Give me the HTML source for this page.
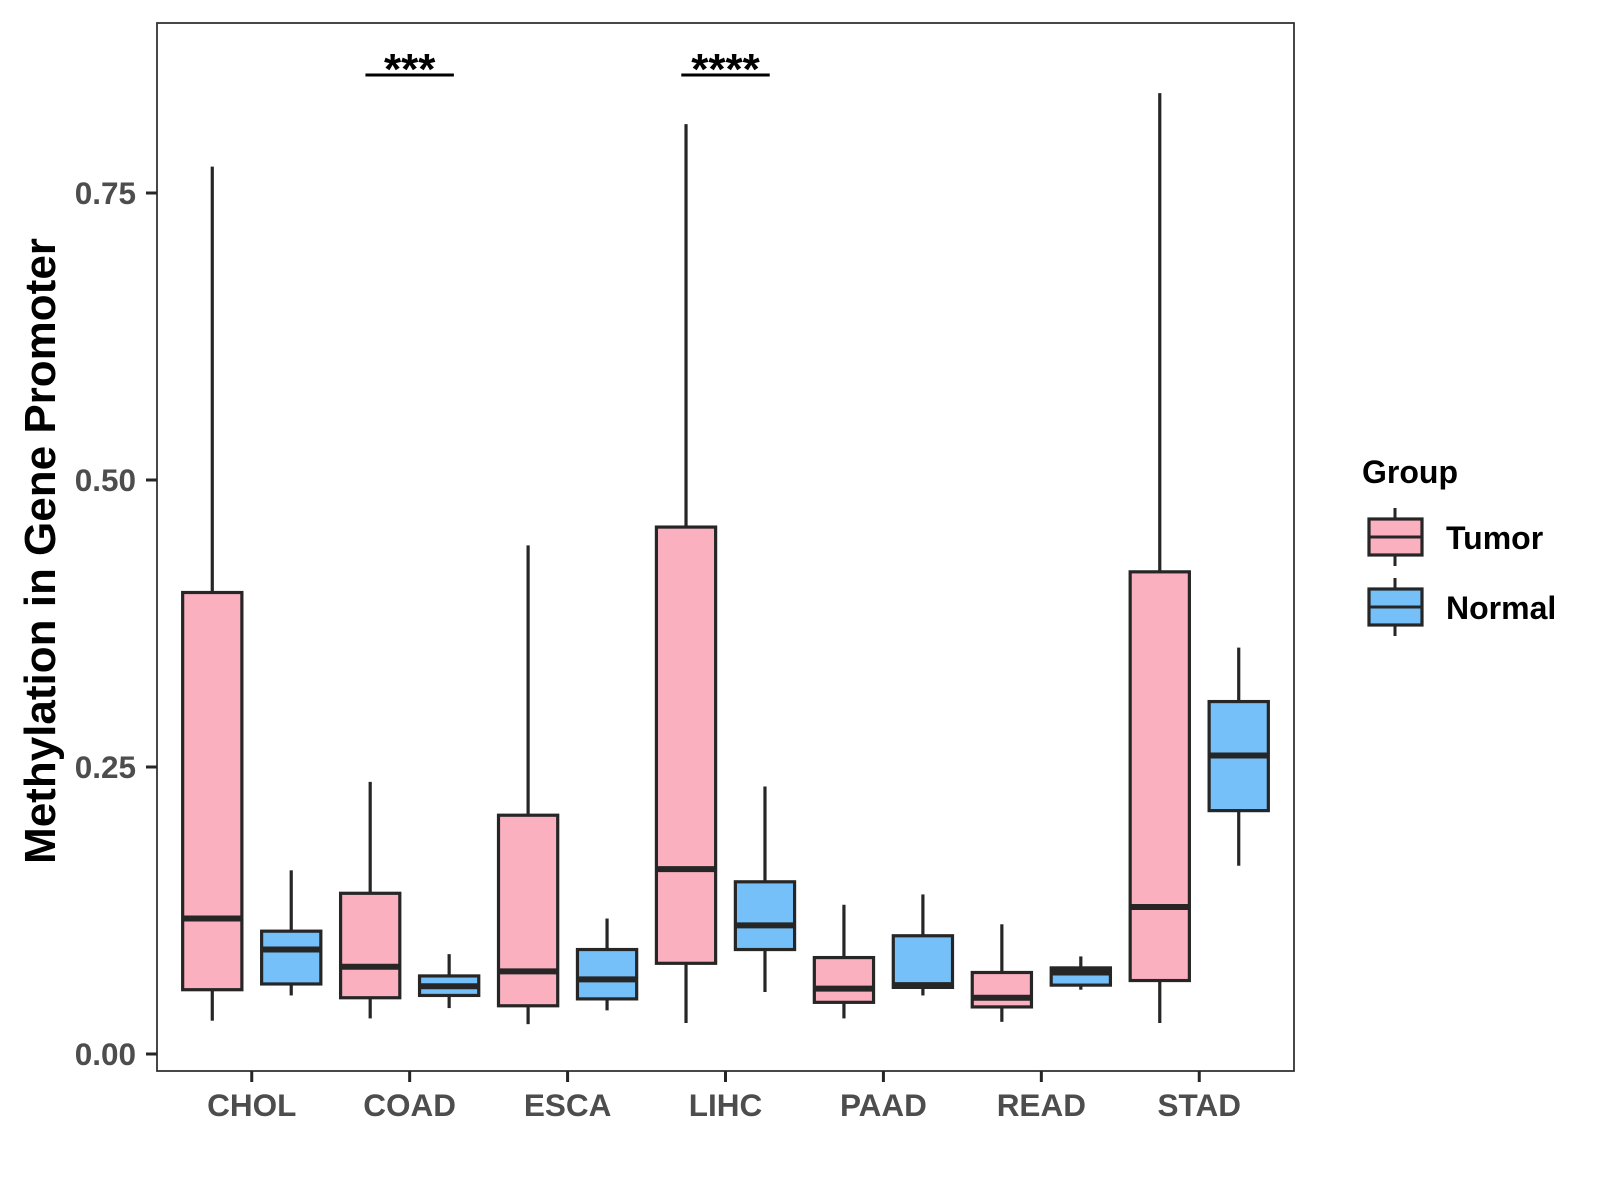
<!DOCTYPE html>
<html><head><meta charset="utf-8"><style>
html,body{margin:0;padding:0;background:#fff;}
svg{display:block;font-family:"Liberation Sans",Arial,sans-serif;}
</style></head><body>
<svg id="chart" width="1600" height="1200" viewBox="0 0 1600 1200">
<rect width="1600" height="1200" fill="#fff"/>
<g id="plot"></g>
</svg>
<script>
const categories = ["CHOL","COAD","ESCA","LIHC","PAAD","READ","STAD"];
const groups = ["Tumor","Normal"];
// [lowerWhisker, Q1, median, Q3, upperWhisker]
const tumorStats = [
 [0.029,0.056,0.118,0.402,0.773],
 [0.031,0.049,0.076,0.140,0.237],
 [0.026,0.042,0.072,0.208,0.443],
 [0.027,0.079,0.161,0.459,0.810],
 [0.031,0.045,0.057,0.084,0.130],
 [0.028,0.041,0.049,0.071,0.113],
 [0.027,0.064,0.128,0.420,0.837]
];
const normalStats = [
 [0.051,0.061,0.091,0.107,0.160],
 [0.040,0.051,0.059,0.068,0.087],
 [0.038,0.048,0.065,0.091,0.118],
 [0.054,0.091,0.112,0.150,0.233],
 [0.051,0.058,0.060,0.103,0.139],
 [0.056,0.060,0.071,0.075,0.085],
 [0.164,0.212,0.260,0.307,0.354]
];
const yTicks = [0, 0.25, 0.5, 0.75];
const yTickLabels = ["0.00","0.25","0.50","0.75"];
const sigCategories = ["COAD","LIHC"];
const sigLabels = ["***","****"];

const NS = "http://www.w3.org/2000/svg";
const g = document.getElementById("plot");
const P = {l:157, r:1294, t:23, b:1071};
function xScale(i){ return P.l + (i + 1 - 0.4) * (P.r - P.l) / 7.2; }
function yScale(v){ return 1054 - v * 1148; }
const unit = (P.r - P.l) / 7.2;
function mk(tag, attrs, parent){
  const e = document.createElementNS(NS, tag);
  for (const k in attrs) e.setAttribute(k, attrs[k]);
  (parent || g).appendChild(e);
  return e;
}
const lc = "#262626";

const border = mk("rect",{x:P.l,y:P.t,width:P.r-P.l,height:P.b-P.t,fill:"none",stroke:"#333","stroke-width":1.8});



yTicks.forEach((v,i)=>{
  const y = yScale(v);
  const t = mk("line",{x1:P.l-11,x2:P.l,y1:y,y2:y,stroke:lc,"stroke-width":3});
  
  
  const tx = mk("text",{x:136,y:y+11,"text-anchor":"end","font-size":31.5,"font-weight":"bold",fill:"#4d4d4d"});
  tx.textContent = yTickLabels[i];
  
  
});

categories.forEach((c,i)=>{
  const x = xScale(i);
  const t = mk("line",{x1:x,x2:x,y1:P.b,y2:P.b+11,stroke:lc,"stroke-width":3});
  
  
  const tx = mk("text",{x:x,y:1116,"text-anchor":"middle","font-size":31.5,"font-weight":"bold",fill:"#4d4d4d"});
  tx.textContent = c;
  
  
});

function drawBox(cx, s, fill, name){
  const hw = unit * 0.1875;
  const grp = mk("g",{});
  
  
  const w1 = mk("line",{x1:cx,x2:cx,y1:yScale(s[3]),y2:yScale(s[4]),stroke:lc,"stroke-width":3.2},grp);
  
  
  const w2 = mk("line",{x1:cx,x2:cx,y1:yScale(s[0]),y2:yScale(s[1]),stroke:lc,"stroke-width":3.2},grp);
  
  
  const r = mk("rect",{x:cx-hw,y:yScale(s[3]),width:hw*2,height:yScale(s[1])-yScale(s[3]),fill:fill,stroke:lc,"stroke-width":3.2},grp);
  
  
  const m = mk("line",{x1:cx-hw,x2:cx+hw,y1:yScale(s[2]),y2:yScale(s[2]),stroke:lc,"stroke-width":6},grp);
  
  
}
categories.forEach((c,i)=>{
  drawBox(xScale(i) - unit*0.25, tumorStats[i], "#FBB0C0", "box-tumor-"+c.toLowerCase());
  drawBox(xScale(i) + unit*0.25, normalStats[i], "#75C0F8", "box-normal-"+c.toLowerCase());
});

sigCategories.forEach((c,k)=>{
  const i = categories.indexOf(c);
  const x = xScale(i);
  const l = mk("line",{x1:x-unit*0.28,x2:x+unit*0.28,y1:75,y2:75,stroke:"#000","stroke-width":3});
  
  
  const t = mk("text",{x:x,y:84,"text-anchor":"middle","font-size":44,"font-weight":"bold",fill:"#000"});
  t.textContent = sigLabels[k];
  
  
});

const yt = mk("text",{x:0,y:0,transform:"translate(55,551) rotate(-90)","text-anchor":"middle","font-size":44,"font-weight":"bold",fill:"#000"});
yt.textContent = "Methylation in Gene Promoter";



const lg = mk("g",{});


const lt = mk("text",{x:1362,y:483,"font-size":32,"font-weight":"bold",fill:"#000"},lg);
lt.textContent = "Group";


const fills = ["#FBB0C0","#75C0F8"];
groups.forEach((gname,k)=>{
  const y0 = 519 + k*70;
  const e = mk("g",{},lg);
  
  
  mk("line",{x1:1395,x2:1395,y1:y0-11,y2:y0+47,stroke:lc,"stroke-width":3},e);
  mk("rect",{x:1369,y:y0,width:53,height:36,fill:fills[k],stroke:lc,"stroke-width":3.2},e);
  mk("line",{x1:1369,x2:1422,y1:y0+18,y2:y0+18,stroke:lc,"stroke-width":3},e);
  const t = mk("text",{x:1446,y:y0+30,"font-size":32,"font-weight":"bold",fill:"#000"},e);
  t.textContent = gname;
});
</script>
</body></html>
